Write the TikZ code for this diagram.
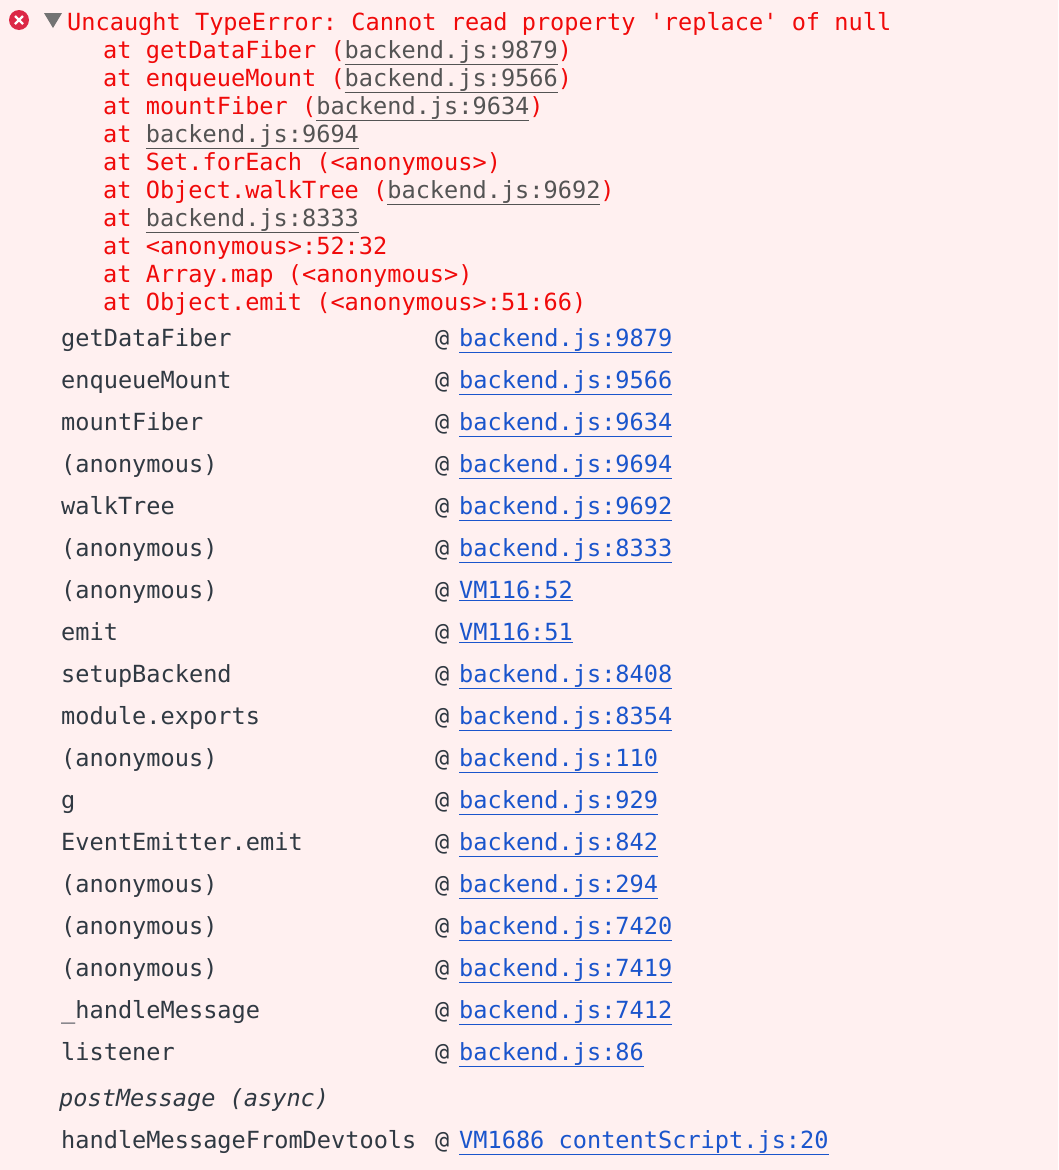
\documentclass[tikz,border=0pt]{standalone}
\usepackage{fontspec}
\setmonofont{DejaVu Sans Mono}
\begin{document}
\begin{tikzpicture}[x=1pt,y=-1pt,
  t/.style={anchor=base west,inner sep=0pt,font=\fontsize{23.6}{26}\ttfamily},
  er/.style={t,text=errred},
  fn/.style={t,text=fgray},
  lk/.style={t,text=lblue}]
\definecolor{errred}{HTML}{F00A0A}
\definecolor{fgray}{HTML}{303942}
\definecolor{lblue}{HTML}{1A55CC}
\definecolor{ulgray}{HTML}{545454}
\definecolor{bg}{HTML}{FFF0F0}
\fill[bg] (0,0) rectangle (1058,1170);
\useasboundingbox (0,0) rectangle (1058,1170);
\fill[fill={rgb,255:red,220;green,40;blue,70}] (19,20) circle (10);
\draw[white,line width=2.2pt] (15,16) -- (23,24) (23,16) -- (15,24);
\fill[gray!90!black] (44,13) -- (62,13) -- (53,28) -- cycle;
\newcommand\ul[1]{\textcolor{ulgray}{\underline{#1}}}
\node[er] (h) at (67,30) {Uncaught TypeError: Cannot read property 'replace' of null};
\node[er] (a1) at (103,58) {at getDataFiber (\ul{backend.js:9879})};
\node[er] (a2) at (103,86) {at enqueueMount (\ul{backend.js:9566})};
\node[er] (a3) at (103,114) {at mountFiber (\ul{backend.js:9634})};
\node[er] (a4) at (103,142) {at \ul{backend.js:9694}};
\node[er] (a5) at (103,170) {at Set.forEach (<anonymous>)};
\node[er] (a6) at (103,198) {at Object.walkTree (\ul{backend.js:9692})};
\node[er] (a7) at (103,226) {at \ul{backend.js:8333}};
\node[er] (a8) at (103,254) {at <anonymous>:52:32};
\node[er] (a9) at (103,282) {at Array.map (<anonymous>)};
\node[er] (a10) at (103,310) {at Object.emit (<anonymous>:51:66)};
\foreach \n/\f/\l [count=\i from 0] in {
 getDataFiber/backend.js:9879, enqueueMount/backend.js:9566,
 mountFiber/backend.js:9634, (anonymous)/backend.js:9694,
 walkTree/backend.js:9692, (anonymous)/backend.js:8333,
 (anonymous)/VM116:52, emit/VM116:51,
 setupBackend/backend.js:8408, module.exports/backend.js:8354,
 (anonymous)/backend.js:110, g/backend.js:929,
 EventEmitter.emit/backend.js:842, (anonymous)/backend.js:294,
 (anonymous)/backend.js:7420, (anonymous)/backend.js:7419,
 \_handleMessage/backend.js:7412, listener/backend.js:86}{
  \node[fn] (f\i) at (61,346+42*\i) {\n};
  \node[fn] (at\i) at (435,346+42*\i) {@};
  \node[lk] (l\i) at (459,346+42*\i) {\underline{\f}};
}
\node[fn,font=\fontsize{23.6}{26}\ttfamily\itshape] (pm) at (59,1106) {postMessage (async)};
\node[fn] (hm) at (61,1148) {handleMessageFromDevtools};
\node[fn] (hma) at (435,1148) {@};
\node[lk] (hml) at (459,1148) {\underline{VM1686 contentScript.js:20}};
\end{tikzpicture}
\end{document}
